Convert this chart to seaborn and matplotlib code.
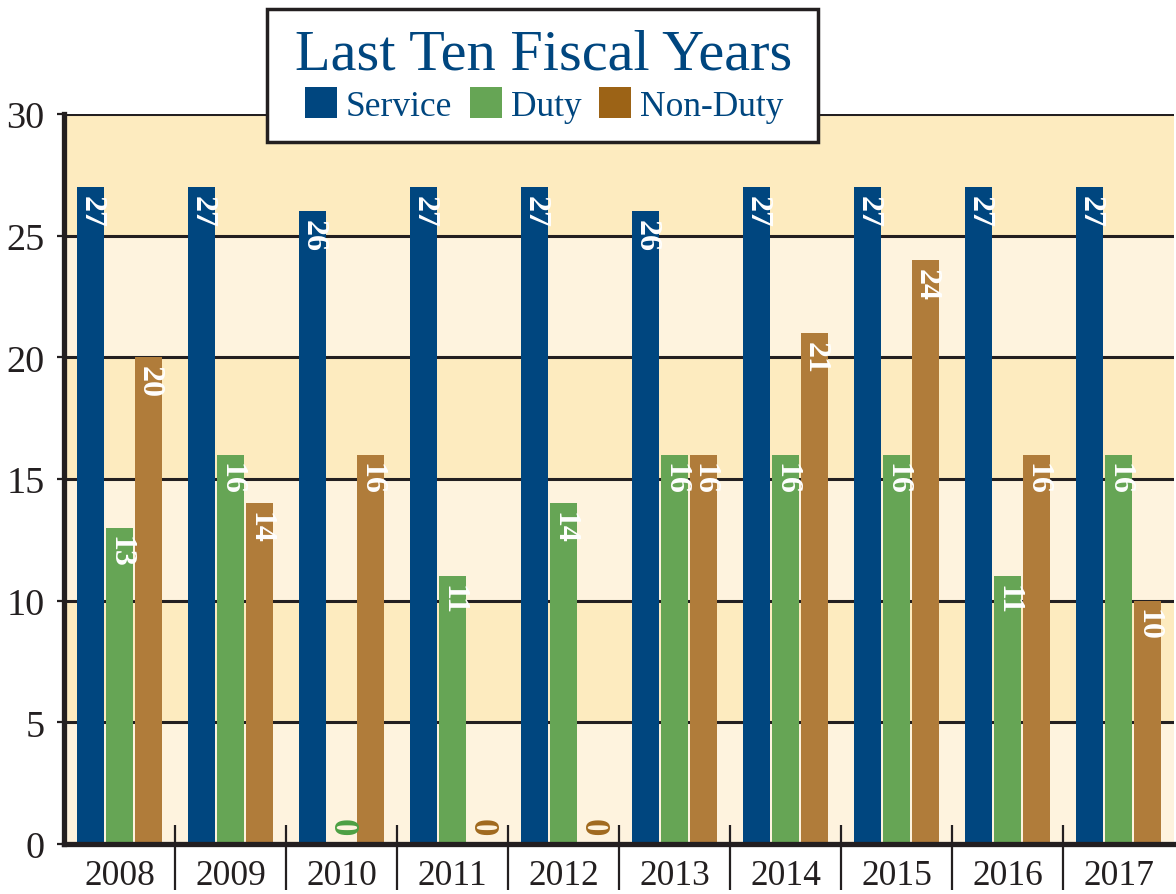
import matplotlib
matplotlib.use("Agg")
import matplotlib.pyplot as plt
from matplotlib.patches import Patch, Rectangle
import seaborn as sns
import pandas as pd
import numpy as np

years = ["2008", "2009", "2010", "2011", "2012", "2013", "2014", "2015", "2016", "2017"]
service = [27, 27, 26, 27, 27, 26, 27, 27, 27, 27]
duty = [13, 16, 0, 11, 14, 16, 16, 16, 11, 16]
non_duty = [20, 14, 16, 0, 0, 16, 21, 24, 16, 10]
series_names = ["Service", "Duty", "Non-Duty"]
y_ticks = [0, 5, 10, 15, 20, 25, 30]

bar_colors = ["#00467f", "#66a555", "#b07c3a"]
legend_colors = ["#00467f", "#66a555", "#9c6316"]
zero_colors = ["#00467f", "#4ca043", "#a0691e"]
navy = "#00467f"
ink = "#231f20"
band_dark = "#fdebbf"
band_light = "#fef3de"

sns.set_theme(style="white")
plt.rcParams["font.family"] = ["Liberation Serif", "DejaVu Serif"]

df = pd.DataFrame({
    "year": years * 3,
    "type": [series_names[0]] * 10 + [series_names[1]] * 10 + [series_names[2]] * 10,
    "value": service + duty + non_duty,
})

W, H = 1176, 895
fig = plt.figure(figsize=(W / 100, H / 100), dpi=100)
ax = fig.add_axes([64 / W, 50 / H, (1174 - 64) / W, (845 - 115) / H])

# background bands
for k in range(6):
    ax.axhspan(k * 5, (k + 1) * 5, color=band_dark if k % 2 == 1 else band_light, zorder=0, lw=0)

for yv in y_ticks[1:]:
    ax.axhline(yv, color=ink, lw=2.2, zorder=1)

sns.barplot(data=df, x="year", y="value", hue="type", hue_order=series_names,
            palette=bar_colors, width=0.775, gap=0.07, errorbar=None,
            legend=False, ax=ax, zorder=3, saturation=1, linewidth=0)

for ci, cont in enumerate(ax.containers):
    for rect in cont:
        h = rect.get_height()
        xc = rect.get_x() + rect.get_width() / 2
        if h > 0:
            ax.annotate(f"{int(round(h))}", (xc, h), xytext=(0.5, -5.5), textcoords="offset points",
                        rotation=270, ha="center", va="top", color="white",
                        fontsize=23, fontweight="bold", zorder=5, annotation_clip=False)
        else:
            ax.text(xc, 0.72, "0", rotation=270, ha="center", va="center",
                    color=zero_colors[ci], fontsize=25, fontweight="bold", zorder=5)

ax.set_xlim(-0.5, 9.5)
ax.set_ylim(0, 30)
ax.set_yticks(y_ticks)
ax.set_yticklabels([str(v) for v in y_ticks])
ax.set_xlabel("")
ax.set_ylabel("")

for s in ["top", "right"]:
    ax.spines[s].set_visible(False)
for s in ["left", "bottom"]:
    ax.spines[s].set_linewidth(3.8)
    ax.spines[s].set_color(ink)
    ax.spines[s].set_zorder(6)

ax.tick_params(axis="y", which="major", direction="out", length=5, width=1.6, color=ink,
               labelsize=27.5, labelcolor=ink, pad=9, left=True)
ax.tick_params(axis="x", which="major", length=0, labelsize=25.5, labelcolor=ink, pad=11)

bounds = np.arange(0.5, 9.5, 1.0)
ax.set_xticks(bounds, minor=True)
ax.tick_params(axis="x", which="minor", direction="out", length=33, width=1.6, color=ink, bottom=True)
ax.vlines(bounds, 0, 0.78, color=ink, lw=1.6, zorder=6)

# legend box
box = Rectangle((267 / W, 1 - 143 / H), (818 - 267) / W, (143 - 10) / H,
                transform=fig.transFigure, facecolor="white", edgecolor=ink,
                linewidth=2.5, zorder=9)
fig.patches.append(box)

handles = [Patch(facecolor=c, edgecolor="none", label=n) for c, n in zip(legend_colors, series_names)]
leg = fig.legend(handles=handles, title="Last Ten Fiscal Years", ncol=3,
                 loc="upper center", bbox_to_anchor=(544 / W, 1 - 29 / H),
                 borderaxespad=0, borderpad=0,
                 fontsize=25.5, title_fontsize=42, frameon=False,
                 handlelength=0.9, handleheight=0.95, handletextpad=0.25,
                 columnspacing=0.5, labelspacing=0.2)
leg.get_title().set_color(navy)
for t in leg.get_texts():
    t.set_color(navy)
leg.set_zorder(10)

fig.savefig("out.png", dpi=100, facecolor="white")
